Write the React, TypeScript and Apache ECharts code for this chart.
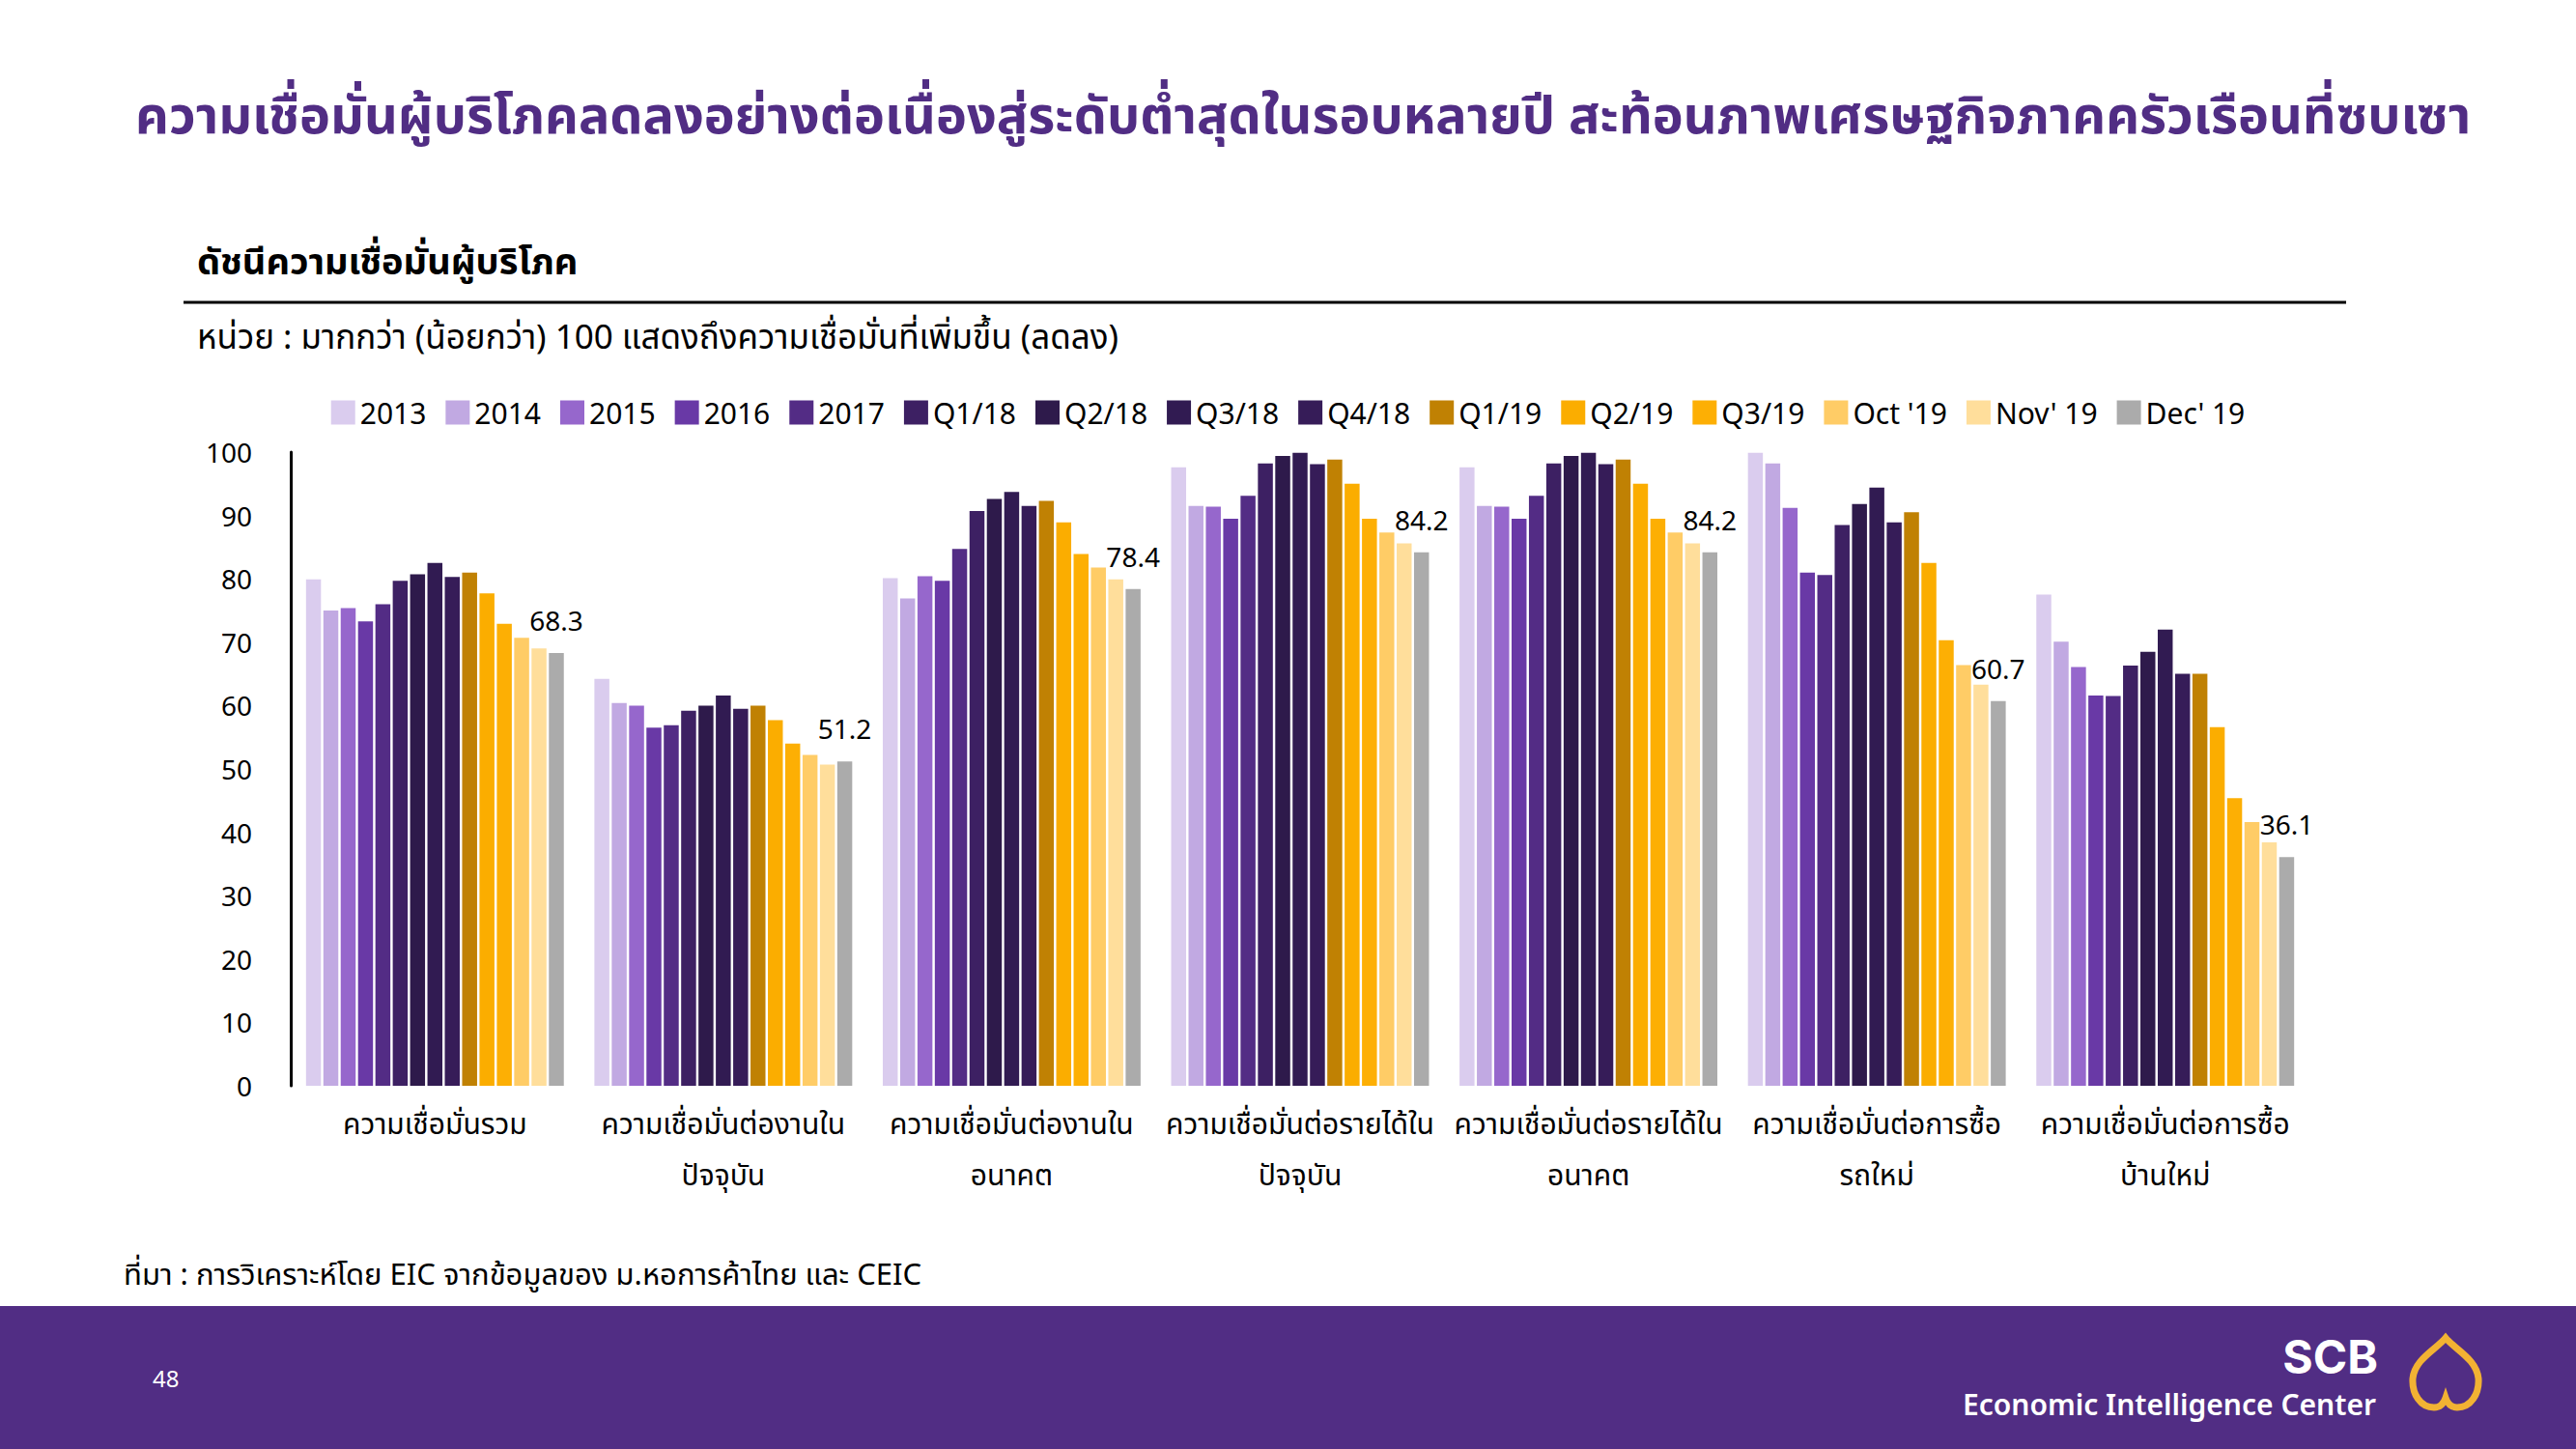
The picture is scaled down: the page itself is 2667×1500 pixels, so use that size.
import React, { useEffect, useRef } from "react";
import * as echarts from "echarts";

// Consumer confidence index by component (values above 100 = rising confidence)
const categories = [
  "ความเชื่อมั่นรวม",
  "ความเชื่อมั่นต่องานใน\nปัจจุบัน",
  "ความเชื่อมั่นต่องานใน\nอนาคต",
  "ความเชื่อมั่นต่อรายได้ใน\nปัจจุบัน",
  "ความเชื่อมั่นต่อรายได้ใน\nอนาคต",
  "ความเชื่อมั่นต่อการซื้อ\nรถใหม่",
  "ความเชื่อมั่นต่อการซื้อ\nบ้านใหม่",
];

const periods = [
  "2013", "2014", "2015", "2016", "2017",
  "Q1/18", "Q2/18", "Q3/18", "Q4/18",
  "Q1/19", "Q2/19", "Q3/19",
  "Oct '19", "Nov' 19", "Dec' 19",
];

const y2013 = [79.9, 64.2, 80.1, 97.6, 97.6, 99.9, 77.5];
const y2014 = [75.0, 60.4, 76.9, 91.5, 91.5, 98.2, 70.1];
const y2015 = [75.4, 60.0, 80.4, 91.4, 91.4, 91.2, 66.1];
const y2016 = [73.3, 56.5, 79.7, 89.5, 89.5, 81.0, 61.6];
const y2017 = [76.0, 56.9, 84.7, 93.1, 93.1, 80.6, 61.5];
const q1y18 = [79.7, 59.2, 90.7, 98.2, 98.2, 88.5, 66.3];
const q2y18 = [80.7, 60.0, 92.6, 99.4, 99.4, 91.8, 68.5];
const q3y18 = [82.5, 61.6, 93.7, 99.9, 99.9, 94.4, 72.0];
const q4y18 = [80.3, 59.5, 91.5, 98.1, 98.1, 88.9, 65.0];
const q1y19 = [81.0, 60.0, 92.3, 98.8, 98.8, 90.5, 65.0];
const q2y19 = [77.7, 57.7, 88.9, 95.0, 95.0, 82.5, 56.6];
const q3y19 = [72.9, 54.0, 83.9, 89.5, 89.5, 70.3, 45.4];
const oct19 = [70.7, 52.2, 81.8, 87.3, 87.3, 66.4, 41.6];
const nov19 = [69.0, 50.7, 79.9, 85.6, 85.6, 63.3, 38.4];
const dec19 = [68.3, 51.2, 78.4, 84.2, 84.2, 60.7, 36.1];

const seriesValues = [
  y2013, y2014, y2015, y2016, y2017,
  q1y18, q2y18, q3y18, q4y18,
  q1y19, q2y19, q3y19,
  oct19, nov19, dec19,
];

const palette = [
  "#DACCEE", "#C1A9E2", "#9667CC", "#6939A6", "#532C85",
  "#3D2063", "#2E1A4B", "#311B52", "#361C58",
  "#C08103", "#FBAD00", "#FDAF04",
  "#FFCC66", "#FFDE9B", "#ABABAB",
];

const yTicks = { min: 0, max: 100, interval: 10 };

const FONT = "'Liberation Sans Narrow', 'Noto Sans', 'Noto Sans Thai', Loma, Garuda, sans-serif";
const PURPLE = "#512D84";

// SCB emblem outline
const EMBLEM =
  "M40,4 C30,16 8,26 6,46 C5,62 14,76 28,76 C34,76 38,72 40,66 C42,72 46,76 52,76 C66,76 75,62 74,46 C72,26 50,16 40,4 Z";

export default function App() {
  const ref = useRef<HTMLDivElement>(null);

  useEffect(() => {
    if (!ref.current) return;
    echarts.graphic.registerShape("scbEmblem", echarts.graphic.extendPath(EMBLEM, {}));
    const chart = echarts.init(ref.current, null, { renderer: "svg" });

    const series = periods.map((name, i) => ({
      name,
      type: "bar",
      data: seriesValues[i],
      itemStyle: { color: palette[i] },
      barGap: "16%",
      barCategoryGap: "10.6%",
      label:
        i === periods.length - 1
          ? {
              show: true,
              position: "top",
              distance: 20,
              fontSize: 28,
              color: "#000",
              fontFamily: FONT,
              formatter: (p: any) => Number(p.value).toFixed(1),
            }
          : { show: false },
    }));

    chart.setOption({
      animation: false,
      backgroundColor: "#ffffff",
      textStyle: { fontFamily: FONT },
      legend: {
        data: periods,
        top: 407,
        left: "center",
        itemWidth: 25,
        itemHeight: 25,
        itemGap: 20,
        icon: "rect",
        textStyle: { fontSize: 30, color: "#000", fontFamily: FONT },
      },
      grid: { left: 301, right: 276, top: 468, bottom: 376, containLabel: false },
      xAxis: {
        type: "category",
        data: categories,
        axisLine: { show: false },
        axisTick: { show: false },
        axisLabel: {
          interval: 0,
          fontSize: 30,
          lineHeight: 53,
          margin: 12,
          color: "#000",
          fontFamily: FONT,
          verticalAlign: "top",
        },
      },
      yAxis: {
        type: "value",
        min: yTicks.min,
        max: yTicks.max,
        interval: yTicks.interval,
        axisLine: { show: true, lineStyle: { color: "#000", width: 3 } },
        axisTick: { show: false },
        splitLine: { show: false },
        axisLabel: { fontSize: 28, color: "#000", margin: 40, fontFamily: FONT },
      },
      series,
      graphic: [
        {
          type: "text",
          left: 140,
          top: 90,
          style: {
            text: "ความเชื่อมั่นผู้บริโภคลดลงอย่างต่อเนื่องสู่ระดับต่ำสุดในรอบหลายปี สะท้อนภาพเศรษฐกิจภาคครัวเรือนที่ซบเซา",
            fontSize: 54,
            fontWeight: "bold",
            fill: PURPLE,
            fontFamily: FONT,
          },
        },
        {
          type: "text",
          left: 204,
          top: 250,
          style: {
            text: "ดัชนีความเชื่อมั่นผู้บริโภค",
            fontSize: 38,
            fontWeight: "bold",
            fill: "#000",
            fontFamily: FONT,
          },
        },
        {
          type: "line",
          shape: { x1: 190, y1: 313, x2: 2429, y2: 313 },
          style: { stroke: "#000", lineWidth: 3 },
        },
        {
          type: "text",
          left: 204,
          top: 330,
          style: {
            text: "หน่วย : มากกว่า (น้อยกว่า) 100 แสดงถึงความเชื่อมั่นที่เพิ่มขึ้น (ลดลง)",
            fontSize: 35,
            fill: "#000",
            fontFamily: FONT,
          },
        },
        {
          type: "text",
          left: 128,
          top: 1302,
          style: {
            text: "ที่มา : การวิเคราะห์โดย EIC จากข้อมูลของ ม.หอการค้าไทย และ CEIC",
            fontSize: 31,
            fill: "#000",
            fontFamily: FONT,
          },
        },
        {
          type: "rect",
          shape: { x: 0, y: 1352, width: 2667, height: 148 },
          style: { fill: PURPLE },
        },
        {
          type: "text",
          left: 158,
          top: 1414,
          style: { text: "48", fontSize: 24, fill: "#fff", fontFamily: FONT },
        },
        {
          type: "text",
          right: 205,
          top: 1380,
          style: {
            text: "SCB",
            fontSize: 48,
            lineHeight: 44,
            fontWeight: "bold",
            fill: "#fff",
            fontFamily: "Inter, 'Noto Sans', sans-serif",
          },
        },
        {
          type: "text",
          right: 207,
          top: 1438,
          style: {
            text: "Economic Intelligence Center",
            fontSize: 30,
            lineHeight: 30,
            fontWeight: 600,
            fill: "#fff",
            fontFamily: FONT,
          },
        },
        {
          type: "scbEmblem",
          x: 2492,
          y: 1381,
          scaleX: 1,
          scaleY: 1,
          style: { fill: "none", stroke: "#F2B233", lineWidth: 7 },
        },
      ],
    });

    return () => chart.dispose();
  }, []);

  return (
    <div
      ref={ref}
      style={{ position: "absolute", left: 0, top: 0, width: 2667, height: 1500, background: "#fff" }}
    />
  );
}
